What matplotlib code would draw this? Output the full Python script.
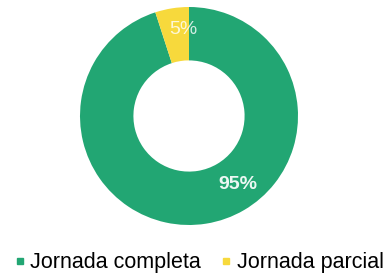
import matplotlib.pyplot as plt
from matplotlib.lines import Line2D

labels = ["Jornada completa", "Jornada parcial"]
values = [95, 5]
pct_text = ["95%", "5%"]
colors = ["#22a673", "#f7d93c"]

plt.rcParams['font.family'] = ['Liberation Sans', 'DejaVu Sans']

fig = plt.figure(figsize=(3.9, 2.76), dpi=100)
ax = fig.add_axes([80/390, 51/276, 218/390, 218/276])
ax.pie(values, colors=colors, startangle=90, counterclock=False,
       wedgeprops=dict(width=0.49, linewidth=0))
ax.set_xlim(-1, 1)
ax.set_ylim(-1, 1)
ax.set_aspect('equal')

# percentage labels inside the ring
ax.text(0.45, -0.63, pct_text[0], color="white", fontsize=14, fontweight="bold",
        ha="center", va="center", alpha=0.92)
ax.text(-0.05, 0.79, pct_text[1], color="white", fontsize=14,
        ha="center", va="center", alpha=0.8)

handles = [Line2D([], [], marker='s', linestyle='', markersize=5,
                  markerfacecolor=c, markeredgecolor=c) for c in colors]
fig.legend(handles, labels, loc='lower center', bbox_to_anchor=(0.51, -0.06),
           ncol=2, frameon=False, fontsize=15.5, handlelength=0.5,
           handletextpad=0.25, columnspacing=0.9)

fig.savefig("out.png", dpi=100, facecolor="white")
